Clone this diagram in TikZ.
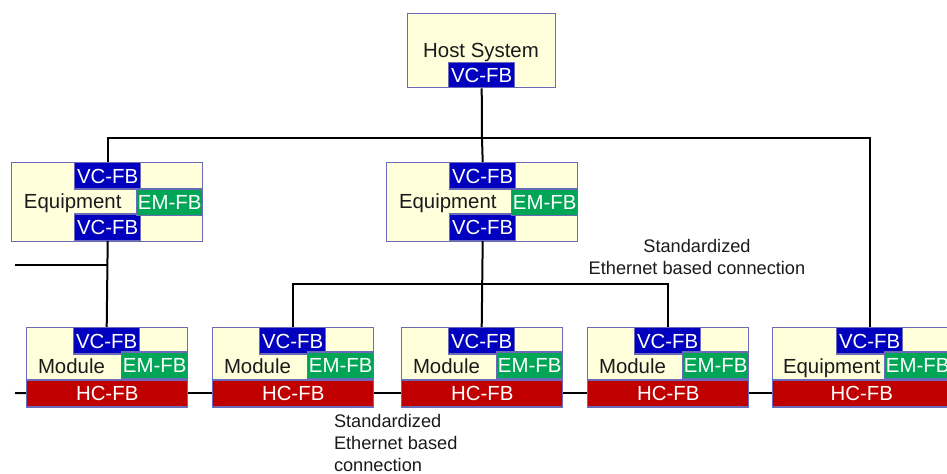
\documentclass[tikz,border=0pt]{standalone}
\usepackage{fontspec}
\setmainfont{Liberation Sans}
\usepackage{tikz}

\definecolor{cream}{HTML}{FFFFDC}
\definecolor{framec}{HTML}{6A6AB8}
\definecolor{vcblue}{HTML}{0000BE}
\definecolor{emgreen}{HTML}{00A656}
\definecolor{hcred}{HTML}{C00000}
\definecolor{txt}{HTML}{1A1A1A}

\begin{document}
\begin{tikzpicture}[x=0.5pt,y=-0.5pt,line width=1pt,
    every node/.style={font=\fontsize{10.2}{12}\selectfont,inner sep=0pt,text depth=0pt},
    box/.style={draw=framec,line width=0.7pt,fill=cream},
    fb/.style={draw=framec,line width=0.7pt,text=white,minimum width=33pt,minimum height=13.2pt},
    vc/.style={fb,fill=vcblue},
    em/.style={fb,fill=emgreen},
    hc/.style={fb,fill=hcred,minimum width=80.5pt},
    lbl/.style={text=txt,anchor=west},
    note/.style={font=\fontsize{9.1}{11}\selectfont,text=txt}]
	\clip (0,0) rectangle (947,474);
	% host
	\node[box,minimum width=74pt,minimum height=37pt,anchor=north west] (host) at (407,13) {};
	\node[text=txt] (hosttxt) at (481,50) {Host System};
	\node[vc,minimum height=12.5pt,anchor=south] (hostvc) at (host.south) {VC-FB};
	% equipments
	\foreach \i/\x in {1/11,2/386}{
		\node[box,minimum width=95.5pt,minimum height=39.5pt,anchor=north west] (e\i) at (\x,162) {};
		\node[vc,anchor=north west] (e\i t) at (\x+63,162) {VC-FB};
		\node[vc,anchor=south west] (e\i b) at (\x+63,241) {VC-FB};
		\node[em,anchor=east] (e\i m) at (e\i.east) {EM-FB};
		\node[lbl] (e\i txt) at (\x+12,201.5) {Equipment};
	}
	% modules
	\foreach \i/\x in {1/26,2/212,3/401,4/587}{
		\node[box,minimum width=80.5pt,minimum height=40pt,anchor=north west] (m\i) at (\x,327) {};
		\node[vc,anchor=north west] (m\i v) at (\x+47,327) {VC-FB};
		\node[hc,anchor=south west] (m\i h) at (\x,407) {HC-FB};
		\node[em,anchor=south east] (m\i e) at (m\i h.north east) {EM-FB};
		\node[lbl] (m\i txt) at (\x+11,366.5) {Module};
	}
	% equipment on the right
	\node[box,minimum width=89pt,minimum height=40pt,anchor=north west] (e3) at (772,327) {};
	\node[vc,anchor=north west] (e3t) at (836,327) {VC-FB};
	\node[hc,minimum width=89pt,anchor=south west] (e3h) at (772,407) {HC-FB};
	\node[em,anchor=south east] (e3m) at (e3h.north east) {EM-FB};
	\node[lbl] (e3txt) at (782,366.5) {Equipment};
	% connections
	\coordinate (bus) at (482,138);
	\coordinate (eth) at (482,284);
	\coordinate (lan) at (15,265);
	\coordinate (lan2) at (15,393);
	\draw (hostvc.south) -- (bus);
	\draw (e1t.north) |- (bus) -| (e3t.north);
	\draw (bus) -- (e2t.north);
	\draw (e1b.south) -- (m1v.north);
	\draw (lan) -- (lan -| e1b.south);
	\draw (e2b.south) -- (m3v.north);
	\draw (m2v.north) |- (eth) -| (m4v.north);
	\draw (lan2) -- (m1h.west);
	\draw (m1h.east) -- (m2h.west);
	\draw (m2h.east) -- (m3h.west);
	\draw (m3h.east) -- (m4h.west);
	\draw (m4h.east) -- (e3h.west);
	% labels
	\node[note,align=center] (n1) at (697,257) {Standardized\\Ethernet based connection};
	\node[note,align=left,anchor=north west] (n2) at (333,413) {Standardized\\Ethernet based\\connection};
\end{tikzpicture}
\end{document}
